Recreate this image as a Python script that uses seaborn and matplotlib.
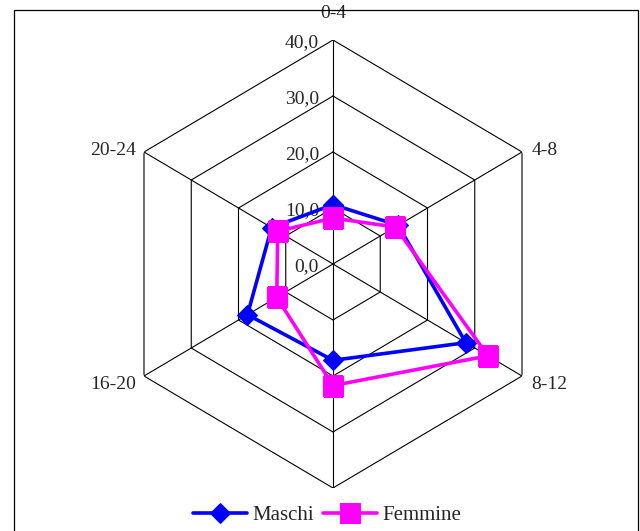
import numpy as np
import pandas as pd
import matplotlib
matplotlib.use('Agg')
import matplotlib.pyplot as plt
import seaborn as sns
from matplotlib.patches import Rectangle

# categorie (fasce d'età) e valori delle due serie
categorie = ['0-4', '4-8', '8-12', '12-16', '16-20', '20-24']
maschi = [10.6, 13.8, 28.1, 17.2, 18.1, 13.0]
femmine = [8.2, 13.2, 32.8, 21.7, 11.9, 11.7]
anelli = [0, 10, 20, 30, 40]
etichette_anelli = ['0,0', '10,0', '20,0', '30,0', '40,0']

sns.set_style('white')
plt.rcParams['font.family'] = ['Liberation Serif', 'DejaVu Serif']

fig = plt.figure(figsize=(6.4, 5.31), dpi=100)

# cornice esterna del grafico
fig.patches.append(Rectangle((14 / 640, -0.1), 624 / 640, 1.1 - 10 / 531,
                             transform=fig.transFigure, fill=False,
                             edgecolor='black', linewidth=0.9))

# il grafico originale è un po' schiacciato in orizzontale
cx, cy, Ry = 333 / 640, (531 - 264) / 531, 224
Rx = 189 / 0.866
ax = fig.add_axes([cx - Rx / 640, cy - Ry / 531, 2 * Rx / 640, 2 * Ry / 531], projection='polar')
ax.set_aspect('auto')
ax.set_theta_zero_location('N')
ax.set_theta_direction(-1)
ax.set_ylim(0, 40)
ax.grid(False)
ax.spines['polar'].set_visible(False)
ax.set_xticks([])
ax.set_yticks([])
ax.patch.set_alpha(0)

n = len(categorie)
theta = np.arange(n) * 2 * np.pi / n
theta_chiuso = np.append(theta, theta[0])

# griglia esagonale e raggi
for r in anelli[1:]:
    ax.plot(theta_chiuso, [r] * (n + 1), color='black', lw=0.8, zorder=1)
for t in theta:
    ax.plot([t, t], [0, anelli[-1]], color='black', lw=0.8, zorder=1)

# etichette dei valori sul raggio superiore
for r, lab in zip(anelli, etichette_anelli):
    ax.annotate(lab, xy=(0, r), xytext=(-10, -2), textcoords='offset points',
                ha='right', va='center', fontsize=14)

# etichette delle categorie (quella in basso è coperta dalla legenda nell'originale)
offsets = {'0-4': (0, 19, 'center'), '4-8': (7, 1, 'left'), '8-12': (7, -6, 'left'),
           '16-20': (-6, -6, 'right'), '20-24': (-6, 1, 'right')}
for t, lab in zip(theta, categorie):
    if lab not in offsets:
        continue
    dx, dy, ha = offsets[lab]
    ax.annotate(lab, xy=(t, anelli[-1]), xytext=(dx, dy), textcoords='offset points',
                ha=ha, va='center', fontsize=14, annotation_clip=False)

df_m = pd.DataFrame({'theta': theta_chiuso, 'val': maschi + maschi[:1]})
df_f = pd.DataFrame({'theta': theta_chiuso, 'val': femmine + femmine[:1]})

sns.lineplot(data=df_m, x='theta', y='val', sort=False, estimator=None, ax=ax,
             color='#0000FF', lw=2.6, marker='D', markersize=10,
             markeredgecolor='#0000FF', label='Maschi', zorder=3)
sns.lineplot(data=df_f, x='theta', y='val', sort=False, estimator=None, ax=ax,
             color='#FF00FF', lw=2.6, marker='s', markersize=14,
             markeredgecolor='#FF00FF', label='Femmine', zorder=4)
ax.set_xlabel('')
ax.set_ylabel('')

leg = ax.legend(loc='center', bbox_to_anchor=(327 / 640, 1 - 515 / 531),
                bbox_transform=fig.transFigure, ncol=2, frameon=True,
                framealpha=1, edgecolor='white', fontsize=15,
                handlelength=2.6, handletextpad=0.25, columnspacing=0.4,
                borderpad=0.2)
leg.set_zorder(10)

fig.savefig('out.png', dpi=100)
